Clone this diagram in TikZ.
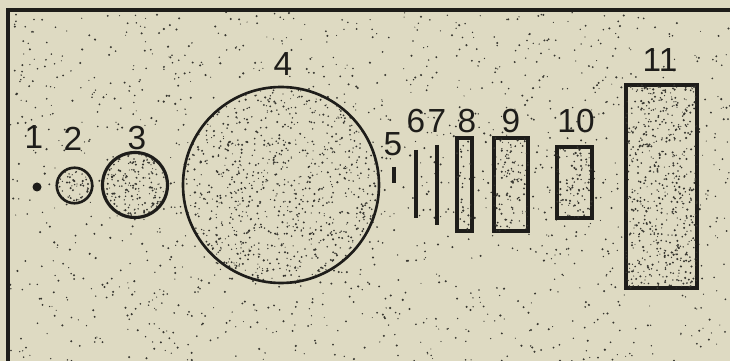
\documentclass[tikz,border=0pt]{standalone}
\usepackage{fontspec}
\setsansfont{Liberation Sans}
\usetikzlibrary{positioning, calc}
\definecolor{cpaper}{HTML}{DEDAC2}
\definecolor{cink}{HTML}{1E1D1A}
\definecolor{cspeck}{HTML}{36352F}
\tikzset{
  every picture/.style={font=\sffamily, line width=1.4pt},
  frame/.style={draw=cink, line width=2.2pt},
  outline/.style={draw=cink, line width=1.5pt},
  disc/.style={circle, outline, inner sep=0pt, minimum size=#1*0.02cm},
  bar/.style={rectangle, outline, line width=1.9pt, inner sep=0pt, minimum width=#1*0.02cm},
  tall/.style={minimum height=#1*0.02cm},
  num/.style={font=\sffamily\fontsize{19}{19}\selectfont, text=cink, inner sep=0pt},
  speck/.style={fill=cspeck},
}
% sprinkle n random specks inside the current clip box
\newcommand{\sprinkle}[5]{%
  \foreach \k in {1,...,#1} {\fill[speck] ({#2+rnd*(#4-#2)},{#3+rnd*(#5-#3)}) circle ({0.55+0.65*rnd});}}

\begin{document}
\begin{tikzpicture}[x=0.02cm, y=-0.02cm]
  \useasboundingbox (0,0) rectangle (730,361);
  \fill[cpaper] (0,0) rectangle (730,361);
  \pgfmathsetseed{4711}
  \sprinkle{1500}{10}{12}{730}{361}

  % the eleven shapes
  \fill[cink] (37,187) circle (4.5);
  \node[disc=35.5] (c2) at (74.5,185.5) {};
  \node[disc=65, line width=1.8pt] (c3) at (135,185) {};
  \node[disc=196] (c4) at (281,185) {};
  \draw[cink, line width=2.6pt] (394,167) -- (394,183);
  \draw[cink, line width=2.4pt] (416,150) -- (416,218);
  \draw[cink, line width=2.4pt] (437,145) -- (437,225);
  \node[bar=15, tall=93] (r8) at (464.5,184.5) {};
  \node[bar=34, tall=93] (r9) at (511,184.5) {};
  \node[bar=35, tall=71] (r10) at (574.5,182.5) {};
  \node[bar=71, tall=203] (r11) at (661.5,186.5) {};

  % denser stipple inside
  \begin{scope}
    \clip (c2.center) circle (17);
    \sprinkle{60}{57}{168}{92}{203}
  \end{scope}
  \begin{scope}
    \clip (c3.center) circle (31);
    \sprinkle{200}{103}{153}{167}{217}
  \end{scope}
  \begin{scope}
    \clip (c4.center) circle (97);
    \sprinkle{900}{183}{87}{379}{283}
  \end{scope}
  \foreach \r/\n/\xa/\ya/\xb/\yb in {r8/25/457/138/472/231, r9/110/494/138/528/231,
      r10/90/557/147/592/218, r11/520/626/85/697/288} {
    \begin{scope}
      \clip (\r.south west) rectangle (\r.north east);
      \sprinkle{\n}{\xa}{\ya}{\xb}{\yb}
    \end{scope}
  }

  % numbers
  \node[num] (l1) at (34,137) {1};
  \node[num] (l2) at (73,139) {2};
  \node[num] (l3) at (137,138) {3};
  \node[num] (l4) at (283,64) {4};
  \node[num] (l5) at (393,144) {5};
  \node[num] (l6) at (416,121) {6};
  \node[num] (l7) at (437,121) {7};
  \node[num] (l8) at (467,121) {8};
  \node[num] (l9) at (511,121) {9};
  \node[num] (l10) at (576,121) {10};
  \node[num] (l11) at (660,60) {11};

  \draw[frame] (8,400) -- (8,10) -- (760,10);
\end{tikzpicture}
\end{document}
